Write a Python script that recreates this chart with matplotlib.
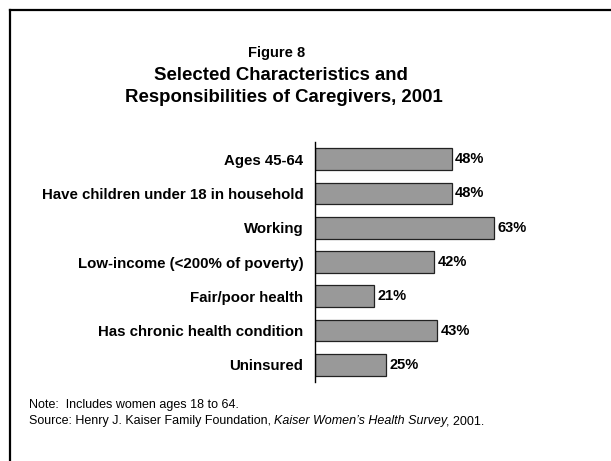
import matplotlib
matplotlib.use("Agg")
import matplotlib.pyplot as plt
from matplotlib.lines import Line2D

plt.rcParams["font.family"] = ["Liberation Sans", "DejaVu Sans"]

# Survey results
categories = [
    "Ages 45-64",
    "Have children under 18 in household",
    "Working",
    "Low-income (<200% of poverty)",
    "Fair/poor health",
    "Has chronic health condition",
    "Uninsured",
]
values = [48, 48, 63, 42, 21, 43, 25]

fig = plt.figure(figsize=(6.11, 4.61), dpi=100)

# frame lines on the top and left of the slide
fig.add_artist(Line2D([9.5 / 611, 1], [1 - 10.5 / 461] * 2, color="black", lw=1.6,
                      transform=fig.transFigure))
fig.add_artist(Line2D([9.5 / 611] * 2, [0, 1 - 10.5 / 461], color="black", lw=1.6,
                      transform=fig.transFigure))

ax = fig.add_axes([314.5 / 611, 79 / 461, 199.8 / 611, 240 / 461])
y = list(range(len(categories)))
ax.barh(y, values, height=0.63, color="#999999", edgecolor="#222222", linewidth=0.9)
ax.set_ylim(len(categories) - 0.5, -0.5)
ax.set_xlim(0, 70)

for yi, v in zip(y, values):
    ax.text(v + 1.2, yi, f"{v}%", va="center", ha="left", fontsize=10.5, fontweight="bold")

ax.set_yticks(y)
ax.set_yticklabels(categories, fontsize=10.8, fontweight="bold")
ax.tick_params(axis="y", length=0, pad=8)
ax.set_xticks([])
for side in ["top", "right", "bottom"]:
    ax.spines[side].set_visible(False)
ax.spines["left"].set_linewidth(1.0)

# titles
fig.text(277 / 611, 1 - 53 / 461, "Figure 8", ha="center", va="center",
         fontsize=10.5, fontweight="bold")
fig.text(281 / 611, 1 - 75 / 461, "Selected Characteristics and", ha="center",
         va="center", fontsize=13.4, fontweight="bold")
fig.text(284 / 611, 1 - 98 / 461, "Responsibilities of Caregivers, 2001", ha="center",
         va="center", fontsize=13.4, fontweight="bold")

# footnotes
fig.text(29 / 611, 1 - 405 / 461, "Note:  Includes women ages 18 to 64.", ha="left",
         va="center", fontsize=9)
src_y = 1 - 421 / 461
t1 = fig.text(29 / 611, src_y, "Source: Henry J. Kaiser Family Foundation, ", ha="left",
              va="center", fontsize=9)
renderer = fig.canvas.get_renderer()
x1 = t1.get_window_extent(renderer).x1 / fig.bbox.width
t2 = fig.text(x1, src_y, "Kaiser Women\u2019s Health Survey", ha="left", va="center",
              fontsize=9, style="italic")
x2 = (t2.get_window_extent(renderer).x1 - 2) / fig.bbox.width
fig.text(x2, src_y, ", 2001.", ha="left", va="center", fontsize=9)

fig.savefig("out.png", dpi=100)
